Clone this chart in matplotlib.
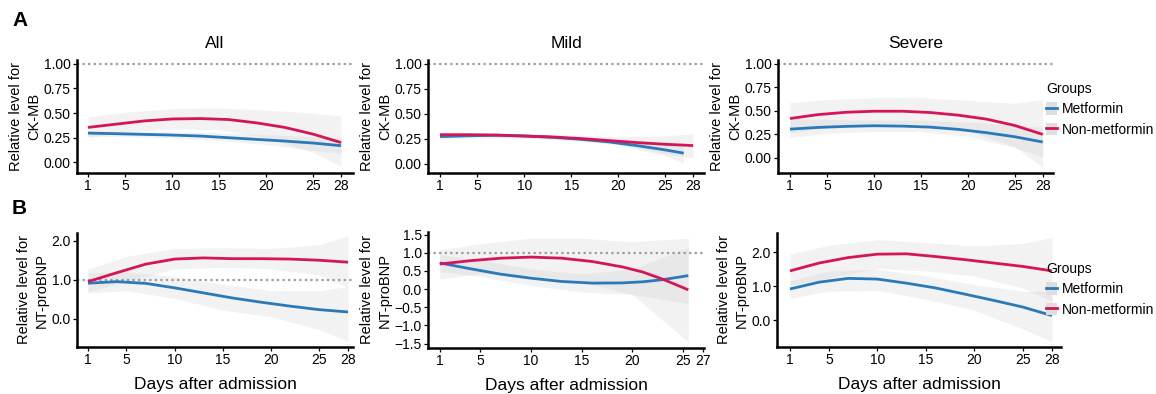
import matplotlib
matplotlib.use("Agg")
import matplotlib.pyplot as plt
from matplotlib.lines import Line2D
from matplotlib.patches import Patch

plt.rcParams['font.family'] = ['Liberation Sans', 'DejaVu Sans']

# ---------------- data ----------------
groups = ["Metformin", "Non-metformin"]
col_met = "#2a7ab9"
col_non = "#d41559"

x_ticks_28 = [1, 5, 10, 15, 20, 25, 28]
x_ticks_27 = [1, 5, 10, 15, 20, 25, 27]

# A: CK-MB
ck_days = [1, 4, 7, 10, 13, 16, 19, 22, 25, 28]
ck_band_days = [1, 5, 10, 15, 20, 25, 28]

ck_all_met = [0.296, 0.29, 0.283, 0.276, 0.266, 0.249, 0.232, 0.215, 0.195, 0.168]
ck_all_non = [0.354, 0.387, 0.42, 0.44, 0.444, 0.434, 0.40, 0.354, 0.286, 0.20]
ck_all_met_lo = [0.265, 0.26, 0.245, 0.22, 0.18, 0.12, 0.09]
ck_all_met_hi = [0.32, 0.315, 0.31, 0.30, 0.28, 0.26, 0.25]
ck_all_non_lo = [0.25, 0.31, 0.34, 0.33, 0.25, 0.10, -0.04]
ck_all_non_hi = [0.46, 0.51, 0.545, 0.55, 0.53, 0.50, 0.47]

ck_mild_met_days = [1, 4, 7, 10, 13, 16, 19, 22, 25, 27]
ck_mild_met = [0.272, 0.28, 0.285, 0.278, 0.265, 0.245, 0.219, 0.182, 0.139, 0.106]
ck_mild_non = [0.291, 0.291, 0.288, 0.278, 0.268, 0.252, 0.232, 0.212, 0.195, 0.182]
ck_mild_met_band_days = [1, 5, 10, 15, 20, 25, 27]
ck_mild_met_lo = [0.245, 0.26, 0.255, 0.235, 0.19, 0.08, 0.01]
ck_mild_met_hi = [0.30, 0.30, 0.30, 0.28, 0.25, 0.22, 0.21]
ck_mild_non_lo = [0.26, 0.27, 0.26, 0.24, 0.20, 0.10, 0.06]
ck_mild_non_hi = [0.32, 0.31, 0.30, 0.29, 0.27, 0.28, 0.30]

ck_sev_met = [0.306, 0.324, 0.335, 0.342, 0.338, 0.327, 0.303, 0.268, 0.225, 0.169]
ck_sev_non = [0.419, 0.46, 0.485, 0.496, 0.496, 0.482, 0.454, 0.412, 0.345, 0.25]
ck_sev_met_lo = [0.22, 0.26, 0.28, 0.28, 0.23, 0.11, 0.01]
ck_sev_met_hi = [0.42, 0.41, 0.40, 0.40, 0.38, 0.35, 0.33]
ck_sev_non_lo = [0.26, 0.33, 0.37, 0.36, 0.29, 0.12, -0.10]
ck_sev_non_hi = [0.59, 0.62, 0.64, 0.64, 0.61, 0.58, 0.62]

# B: NT-proBNP
bnp_days = [1, 4, 7, 10, 13, 16, 19, 22, 25, 28]
bnp_band_days = [1, 5, 10, 15, 20, 25, 28]

bnp_all_met = [0.91, 0.95, 0.905, 0.79, 0.66, 0.53, 0.42, 0.32, 0.23, 0.17]
bnp_all_non = [0.95, 1.18, 1.40, 1.53, 1.56, 1.54, 1.54, 1.53, 1.50, 1.45]
bnp_all_met_lo = [0.66, 0.72, 0.52, 0.22, 0.05, -0.28, -0.58]
bnp_all_met_hi = [1.18, 1.20, 1.08, 0.88, 0.72, 0.72, 0.82]
bnp_all_non_lo = [0.70, 0.95, 1.28, 1.32, 1.28, 1.12, 0.80]
bnp_all_non_hi = [1.27, 1.60, 1.80, 1.82, 1.80, 1.90, 2.13]

bnp_mild_days = [1, 4, 7, 10, 13, 16, 19, 21, 23, 25.5]
bnp_mild_met = [0.72, 0.56, 0.41, 0.30, 0.21, 0.165, 0.17, 0.20, 0.26, 0.37]
bnp_mild_non = [0.69, 0.78, 0.85, 0.88, 0.85, 0.76, 0.61, 0.47, 0.27, -0.02]
bnp_mild_band_days = [1, 5, 10, 15, 20, 25.5]
bnp_mild_met_lo = [0.48, 0.35, 0.10, -0.08, -0.15, -0.40]
bnp_mild_met_hi = [0.95, 0.80, 0.55, 0.42, 0.55, 1.15]
bnp_mild_non_lo = [0.28, 0.42, 0.38, 0.20, -0.15, -1.45]
bnp_mild_non_hi = [1.08, 1.25, 1.40, 1.40, 1.30, 1.40]

bnp_sev_met = [0.92, 1.12, 1.23, 1.21, 1.09, 0.95, 0.77, 0.585, 0.39, 0.14]
bnp_sev_non = [1.45, 1.68, 1.84, 1.94, 1.95, 1.87, 1.78, 1.68, 1.58, 1.45]
bnp_sev_met_lo = [0.65, 0.85, 0.88, 0.62, 0.30, -0.25, -0.62]
bnp_sev_met_hi = [1.16, 1.45, 1.50, 1.30, 1.05, 0.85, 0.85]
bnp_sev_non_lo = [1.04, 1.25, 1.52, 1.45, 1.30, 0.95, 0.56]
bnp_sev_non_hi = [1.94, 2.20, 2.36, 2.28, 2.18, 2.25, 2.43]

# ---------------- figure ----------------
W, H = 1156, 394
fig = plt.figure(figsize=(W / 100, H / 100), dpi=100)


def box(l, r, t, b):
    return [l / W, 1 - b / H, (r - l) / W, (b - t) / H]


def panel(rect, xlim, ylim, xticks, yticks, ylabel, title=None, xlabel=None, ref_line=True):
    ax = fig.add_axes(rect)
    ax.set_xlim(*xlim)
    ax.set_ylim(*ylim)
    ax.set_xticks(xticks)
    ax.set_yticks(yticks)
    for s in ["top", "right"]:
        ax.spines[s].set_visible(False)
    for s in ["left", "bottom"]:
        ax.spines[s].set_linewidth(1.8)
        ax.spines[s].set_color("black")
    ax.tick_params(length=3, width=0.9, labelsize=10, pad=1.5, colors="black")
    if ref_line:
        ax.axhline(1, color="#9a9a9a", ls=(0, (1, 1.5)), lw=1.6, zorder=1)
    ax.set_ylabel(ylabel, fontsize=10.5, labelpad=2, linespacing=1.35)
    if title:
        ax.set_title(title, fontsize=12.5, pad=9)
    if xlabel:
        ax.set_xlabel(xlabel, fontsize=12.5, labelpad=7)
    return ax


def draw(ax, d_met, y_met, d_non, y_non, bd_met, lo_met, hi_met, bd_non, lo_non, hi_non):
    ax.fill_between(bd_non, lo_non, hi_non, color="#d4d4d4", alpha=0.3, lw=0, zorder=0)
    ax.fill_between(bd_met, lo_met, hi_met, color="#d4d4d4", alpha=0.3, lw=0, zorder=0)
    ax.plot(d_met, y_met, color=col_met, lw=2.0, zorder=3, solid_capstyle="butt", solid_joinstyle="round")
    ax.plot(d_non, y_non, color=col_non, lw=2.0, zorder=3, solid_capstyle="butt", solid_joinstyle="round")


ck_yticks = [0, 0.25, 0.5, 0.75, 1.0]
ck_label = "Relative level for\nCK-MB"
bnp_label = "Relative level for\nNT-proBNP"

a1 = panel(box(77, 353, 60, 173), (-0.17, 29.28), (-0.11, 1.04), x_ticks_28, ck_yticks, ck_label, "All")
a1.yaxis.set_major_formatter("{x:.2f}")
draw(a1, ck_days, ck_all_met, ck_days, ck_all_non,
     ck_band_days, ck_all_met_lo, ck_all_met_hi, ck_band_days, ck_all_non_lo, ck_all_non_hi)

a2 = panel(box(428, 704, 60, 173), (-0.28, 29.17), (-0.093, 1.04), x_ticks_28, ck_yticks, ck_label, "Mild")
a2.yaxis.set_major_formatter("{x:.2f}")
draw(a2, ck_mild_met_days, ck_mild_met, ck_days, ck_mild_non,
     ck_mild_met_band_days, ck_mild_met_lo, ck_mild_met_hi, ck_band_days, ck_mild_non_lo, ck_mild_non_hi)

a3 = panel(box(778, 1053, 60, 173), (-0.28, 29.1), (-0.16, 1.04), x_ticks_28, ck_yticks, ck_label, "Severe")
a3.yaxis.set_major_formatter("{x:.2f}")
draw(a3, ck_days, ck_sev_met, ck_days, ck_sev_non,
     ck_band_days, ck_sev_met_lo, ck_sev_met_hi, ck_band_days, ck_sev_non_lo, ck_sev_non_hi)

b1 = panel(box(77, 353, 233, 347), (-0.14, 28.52), (-0.73, 2.2), x_ticks_28, [0, 1, 2], bnp_label,
           xlabel="Days after admission")
b1.yaxis.set_major_formatter("{x:.1f}")
draw(b1, bnp_days, bnp_all_met, bnp_days, bnp_all_non,
     bnp_band_days, bnp_all_met_lo, bnp_all_met_hi, bnp_band_days, bnp_all_non_lo, bnp_all_non_hi)

b2 = panel(box(428, 704, 232, 348), (-0.16, 27.05), (-1.62, 1.57), x_ticks_27,
           [-1.5, -1.0, -0.5, 0, 0.5, 1.0, 1.5], bnp_label, xlabel="Days after admission")
b2.yaxis.set_major_formatter("{x:.1f}")
draw(b2, bnp_mild_days, bnp_mild_met, bnp_mild_days, bnp_mild_non,
     bnp_mild_band_days, bnp_mild_met_lo, bnp_mild_met_hi, bnp_mild_band_days, bnp_mild_non_lo, bnp_mild_non_hi)

b3 = panel(box(777, 1061, 233, 347), (-0.34, 28.93), (-0.78, 2.56), x_ticks_28, [0, 1, 2], bnp_label,
           xlabel="Days after admission", ref_line=False)
b3.yaxis.set_major_formatter("{x:.1f}")
draw(b3, bnp_days, bnp_sev_met, bnp_days, bnp_sev_non,
     bnp_band_days, bnp_sev_met_lo, bnp_sev_met_hi, bnp_band_days, bnp_sev_non_lo, bnp_sev_non_hi)

# panel letters
fig.text(12 / W, 1 - 21 / H, "A", fontsize=15, fontweight="bold", va="center", ha="left")
fig.text(12 / W, 1 - 208 / H, "B", fontsize=15, fontweight="bold", va="center", ha="left")

# legends
handles = [(Patch(facecolor="#dedede", edgecolor="none"), Line2D([], [], color=c, lw=2))
           for c in [col_met, col_non]]
for top in [82, 262]:
    leg = fig.legend(handles, groups, title="Groups", loc="upper left",
                     bbox_to_anchor=(1046 / W, 1 - top / H), frameon=False,
                     fontsize=10, title_fontsize=10, handlelength=0.8, handleheight=1.0,
                     handletextpad=0.35, labelspacing=0.45, borderpad=0, borderaxespad=0)
    leg._legend_box.align = "left"

fig.savefig("out.png", dpi=100)
